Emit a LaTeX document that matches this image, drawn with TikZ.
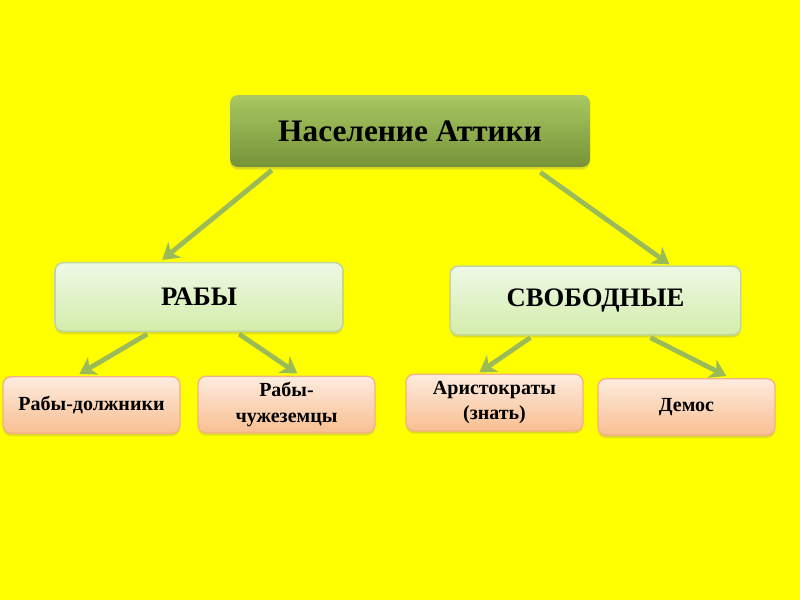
\documentclass[tikz,border=0pt]{standalone}
\usepackage{fontspec}
\setmainfont{Liberation Serif}
\usetikzlibrary{calc,shadows,arrows.meta}
\definecolor{bg}{HTML}{FFFF00}
\definecolor{topA}{HTML}{A8C862}
\definecolor{topB}{HTML}{779339}
\definecolor{midA}{HTML}{EEF8E6}
\definecolor{midB}{HTML}{D3EDAA}
\definecolor{midE}{HTML}{C3D69B}
\definecolor{lowA}{HTML}{FDECDF}
\definecolor{lowB}{HTML}{F9BE91}
\definecolor{lowE}{HTML}{F4B183}
\definecolor{arr}{HTML}{9BBB59}
\tikzset{
  base/.style={rectangle, rounded corners=6pt, align=center, font=\bfseries,
    drop shadow={opacity=0.25, shadow xshift=0pt, shadow yshift=-2pt}},
  topbox/.style={base, top color=topA, bottom color=topB, draw=none,
    minimum width=270pt, minimum height=54pt, font=\bfseries\fontsize{23.5}{28}\selectfont},
  midbox/.style={base, top color=midA, bottom color=midB, draw=midE, line width=1.2pt,
    minimum height=51.5pt, font=\bfseries\fontsize{20}{24}\selectfont},
  lowbox/.style={base, top color=lowA, bottom color=lowB, draw=lowE, line width=1pt,
    minimum width=132.75pt, minimum height=42.5pt, font=\bfseries\fontsize{15}{19}\selectfont},
  conn/.style={draw=arr, line width=3.6pt, -{Stealth[length=12pt,width=15pt,inset=3.5pt]}}
}
\begin{document}
\begin{tikzpicture}[x=0.75pt,y=-0.75pt]
\fill[bg] (0,0) rectangle (800,600);
\useasboundingbox (0,0) rectangle (800,600);
\node[topbox] (top) at (410,131) {Население Аттики};
\node[midbox, minimum width=216pt] (rab) at (199,297) {РАБЫ};
\node[midbox, minimum width=218pt] (svob) at (595.5,300.5) {СВОБОДНЫЕ};
\node[lowbox] (b1) at (91.5,405) {Рабы-должники};
\node[lowbox] (b2) at (286.5,404.5) {Рабы-\\чужеземцы};
\node[lowbox] (b3) at (494.5,402.5) {Аристократы\\(знать)};
\node[lowbox] (b4) at (686.5,407) {Демос};
\draw[conn] ($(top.south west)+(42,3)$) -- ($(rab.north west)+(108,-2)$);
\draw[conn] ($(top.south east)+(-50,5)$) -- ($(svob.north west)+(220,-1)$);
\draw[conn] ($(rab.south west)+(93,2)$) -- ($(b1.north west)+(77,-2)$);
\draw[conn] ($(rab.south west)+(185,2)$) -- ($(b2.north west)+(100,-2)$);
\draw[conn] ($(svob.south west)+(81,2)$) -- ($(b3.north west)+(74,-1)$);
\draw[conn] ($(svob.south west)+(201,2)$) -- ($(b4.north west)+(129,-2)$);
\end{tikzpicture}
\end{document}
